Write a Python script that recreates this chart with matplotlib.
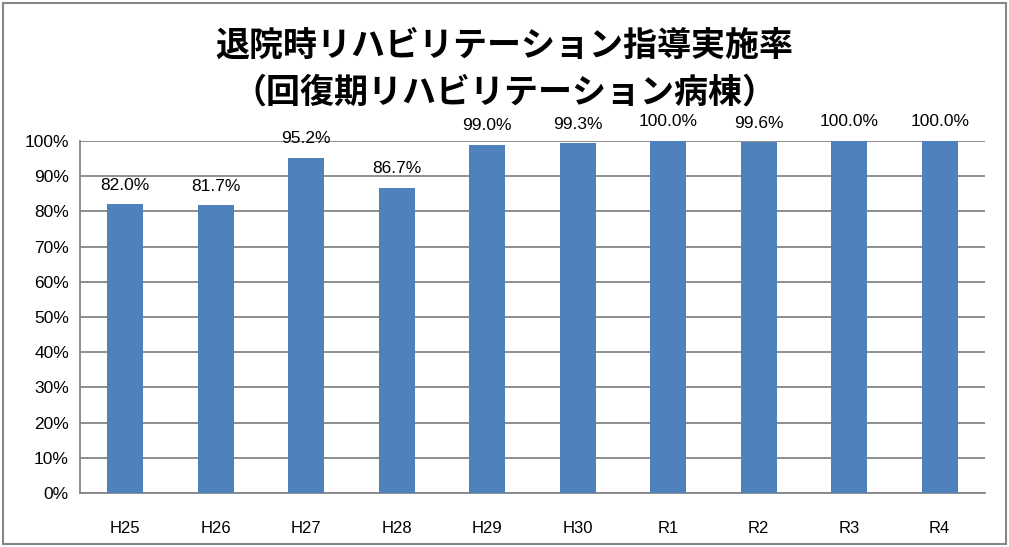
import matplotlib.pyplot as plt
from matplotlib.patches import Rectangle

plt.rcParams['font.family'] = ['Noto Sans CJK JP', 'DejaVu Sans']

categories = ['H25', 'H26', 'H27', 'H28', 'H29', 'H30', 'R1', 'R2', 'R3', 'R4']
rates = [82.0, 81.7, 95.2, 86.7, 99.0, 99.3, 100.0, 99.6, 100.0, 100.0]
title_lines = ['退院時リハビリテーション指導実施率', '（回復期リハビリテーション病棟）']

fig = plt.figure(figsize=(10.09, 5.47), dpi=100)
ax = fig.add_axes([80 / 1009, 1 - 493 / 547, 905 / 1009, 352 / 547])

x = range(len(categories))
ax.bar(x, rates, width=0.4, color='#4F81BD', zorder=3)

for i, v in zip(x, rates):
    ax.text(i, v + 3.3, f'{v:.1f}%', ha='center', va='bottom', fontsize=12.5,
            family=['Liberation Sans', 'DejaVu Sans'])

ax.set_xlim(-0.5, len(categories) - 0.5)
ax.set_ylim(0, 100)
ax.set_yticks(range(0, 101, 10))
ax.set_yticklabels([f'{t}%' for t in range(0, 101, 10)],
                   family=['Liberation Sans', 'DejaVu Sans'], fontsize=12.5)
ax.set_xticks(list(x))
ax.set_xticklabels(categories, family=['Liberation Sans', 'DejaVu Sans'], fontsize=12)
ax.tick_params(axis='both', length=0)
ax.tick_params(axis='x', pad=20)
ax.tick_params(axis='y', pad=8)
ax.yaxis.grid(True, color='#868686', linewidth=1.3, zorder=0)
for side in ['top', 'right']:
    ax.spines[side].set_visible(False)
for side in ['left', 'bottom']:
    ax.spines[side].set_color('#868686')
    ax.spines[side].set_linewidth(1.3)

fig.text(0.5, 1 - 45 / 547, title_lines[0], ha='center', va='center',
         fontsize=24.5, fontweight='bold')
fig.text(0.5, 1 - 92 / 547, title_lines[1], ha='center', va='center',
         fontsize=24.5, fontweight='bold')

# chart border
fig.patches.append(Rectangle((0.003, 0.005), 0.994, 0.99, transform=fig.transFigure,
                             fill=False, edgecolor='#868686', linewidth=1.5))

fig.savefig('out.png', dpi=100)
